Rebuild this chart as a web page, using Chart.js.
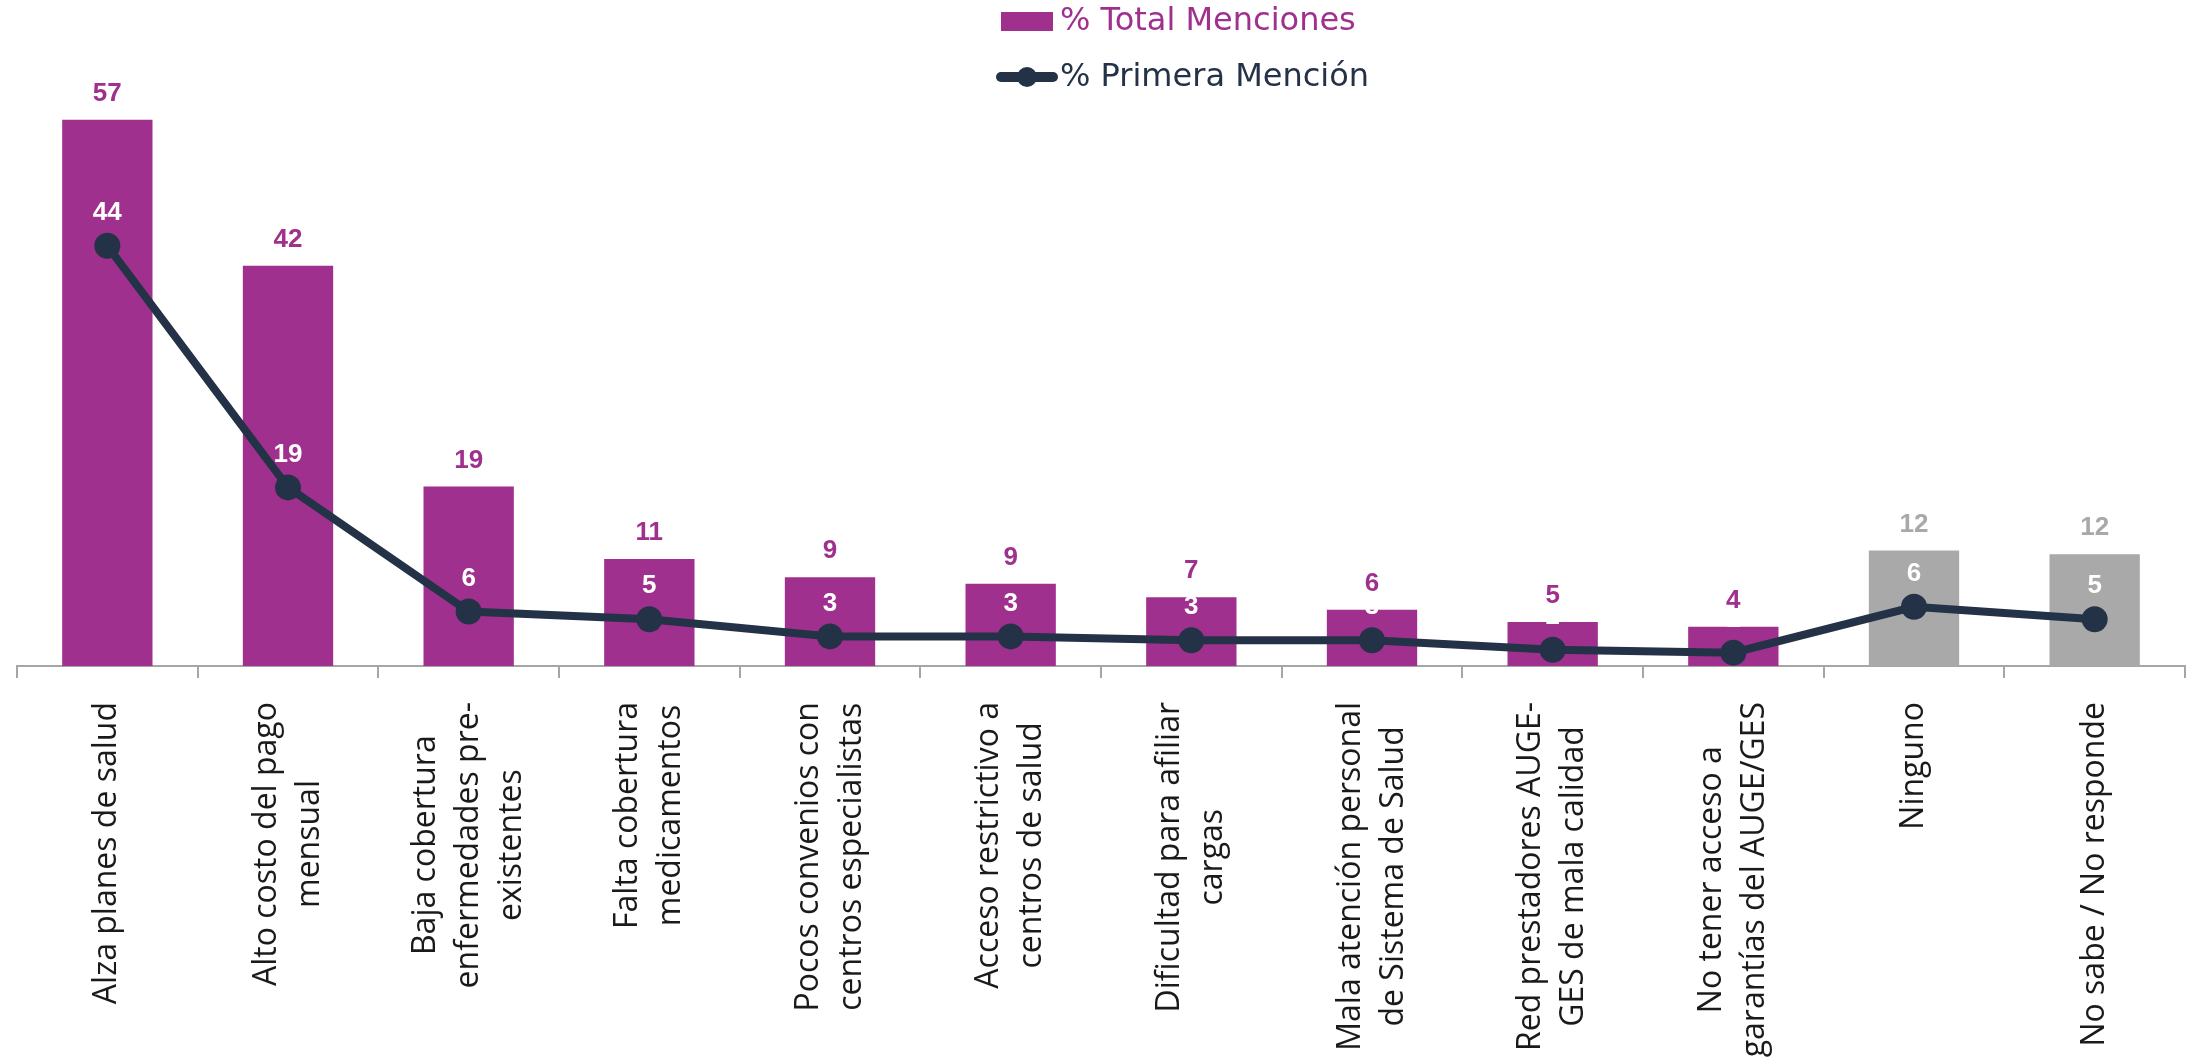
<!DOCTYPE html>
<html>
<head>
<meta charset="utf-8">
<script src="https://cdn.jsdelivr.net/npm/chart.js@4"></script>
<style>
  html, body { margin: 0; padding: 0; background: #fff; }
  #wrap { width: 2202px; height: 1060px; position: relative; }
</style>
</head>
<body>
<div id="wrap"><canvas id="chartMenciones"></canvas></div>
<script>
const categorias = [
    ['Alza planes de salud'],
    ['Alto costo del pago', 'mensual'],
    ['Baja cobertura', 'enfermedades pre-', 'existentes'],
    ['Falta cobertura', 'medicamentos'],
    ['Pocos convenios con', 'centros especialistas'],
    ['Acceso restrictivo a', 'centros de salud'],
    ['Dificultad para afiliar', 'cargas'],
    ['Mala atención personal', 'de Sistema de Salud'],
    ['Red prestadores AUGE-', 'GES de mala calidad'],
    ['No tener acceso a', 'garantías del AUGE/GES'],
    ['Ninguno'],
    ['No sabe / No responde']
];
const totalMenciones = [57.2, 41.9, 18.8, 11.2, 9.3, 8.6, 7.2, 5.9, 4.6, 4.1, 12.1, 11.7];
const primeraMencion = [44.0, 18.7, 5.7, 4.9, 3.1, 3.1, 2.7, 2.7, 1.7, 1.4, 6.2, 4.9];
const esOtro = [false, false, false, false, false, false, false, false, false, false, true, true];

const MORADO = '#a0308e';
const GRIS = '#a9a9a9';
const AZUL = '#243247';

(() => {
    const canvas = document.getElementById('chartMenciones');

    const etiquetas = {
        id: 'etiquetas',
        afterDatasetsDraw(chart) {
            const ctx = chart.ctx;
            ctx.save();
            ctx.textAlign = 'center';
            ctx.textBaseline = 'middle';
            ctx.font = 'bold 26px "Liberation Sans", Arial, sans-serif';

            // valores sobre las barras
            chart.getDatasetMeta(0).data.forEach((bar, i) => {
                ctx.fillStyle = esOtro[i] ? GRIS : MORADO;
                ctx.fillText(Math.round(totalMenciones[i]), bar.x, bar.y - 26);
            });
            // valores sobre la linea
            ctx.fillStyle = '#fff';
            chart.getDatasetMeta(1).data.forEach((pt, i) => {
                ctx.fillText(Math.round(primeraMencion[i]), pt.x, pt.y - 33);
            });
            ctx.restore();
        },
        afterDraw(chart) {
            const ctx = chart.ctx;
            const x = chart.scales.x;
            ctx.save();

            // categorias rotadas, lineas centradas entre si
            ctx.fillStyle = '#1a1a1a';
            ctx.font = '32px "Open Sans", sans-serif';
            ctx.textAlign = 'center';
            ctx.textBaseline = 'middle';
            const lh = 43;
            const yTop = 702;
            categorias.forEach((lines, i) => {
                const maxW = Math.max(...lines.map(l => ctx.measureText(l).width));
                ctx.save();
                ctx.translate(x.getPixelForValue(i), yTop + maxW / 2);
                ctx.rotate(-Math.PI / 2);
                lines.forEach((l, j) => {
                    ctx.fillText(l, 0, (j - (lines.length - 1) / 2) * lh);
                });
                ctx.restore();
            });

            // leyenda
            const ds = chart.data.datasets;
            ctx.textAlign = 'left';
            ctx.font = '32px "DejaVu Sans", sans-serif';
            ctx.fillStyle = MORADO;
            ctx.fillRect(1001, 12, 52, 19);
            ctx.fillText(ds[0].label, 1060, 22);

            ctx.strokeStyle = AZUL;
            ctx.lineWidth = 10;
            ctx.lineCap = 'round';
            ctx.beginPath();
            ctx.moveTo(1001, 77);
            ctx.lineTo(1053, 77);
            ctx.stroke();
            ctx.fillStyle = AZUL;
            ctx.beginPath();
            ctx.arc(1027, 77, 10, 0, Math.PI * 2);
            ctx.fill();
            ctx.fillText(ds[1].label, 1060, 78);
            ctx.restore();
        }
    };

    const data = {
        labels: categorias,
        datasets: [{
            type: 'bar',
            label: '% Total Menciones',
            data: totalMenciones,
            backgroundColor: esOtro.map(o => o ? GRIS : MORADO),
            barPercentage: 1,
            categoryPercentage: 0.5,
            order: 1
        }, {
            type: 'line',
            label: '% Primera Mención',
            data: primeraMencion,
            borderColor: AZUL,
            backgroundColor: AZUL,
            borderWidth: 8,
            pointRadius: 9,
            pointHoverRadius: 9,
            tension: 0,
            order: 0
        }]
    };

    const options = {
        responsive: true,
        maintainAspectRatio: false,
        animation: false,
        layout: { padding: { top: 93, left: 13, right: 9, bottom: 0 } },
        plugins: {
            legend: { display: false },
            tooltip: { enabled: false }
        },
        scales: {
            x: {
                offset: true,
                grid: {
                    offset: true,
                    drawOnChartArea: false,
                    drawTicks: true,
                    tickLength: 12,
                    color: '#a6a6a6',
                    lineWidth: 2
                },
                border: { display: true, color: '#a6a6a6', width: 2 },
                ticks: { display: false },
                afterFit(scale) { scale.height = 1060 - 666; }
            },
            y: {
                display: false,
                min: 0,
                max: 60
            }
        }
    };

    new Chart(canvas, { data, options, plugins: [etiquetas] });
})();
</script>
</body>
</html>
